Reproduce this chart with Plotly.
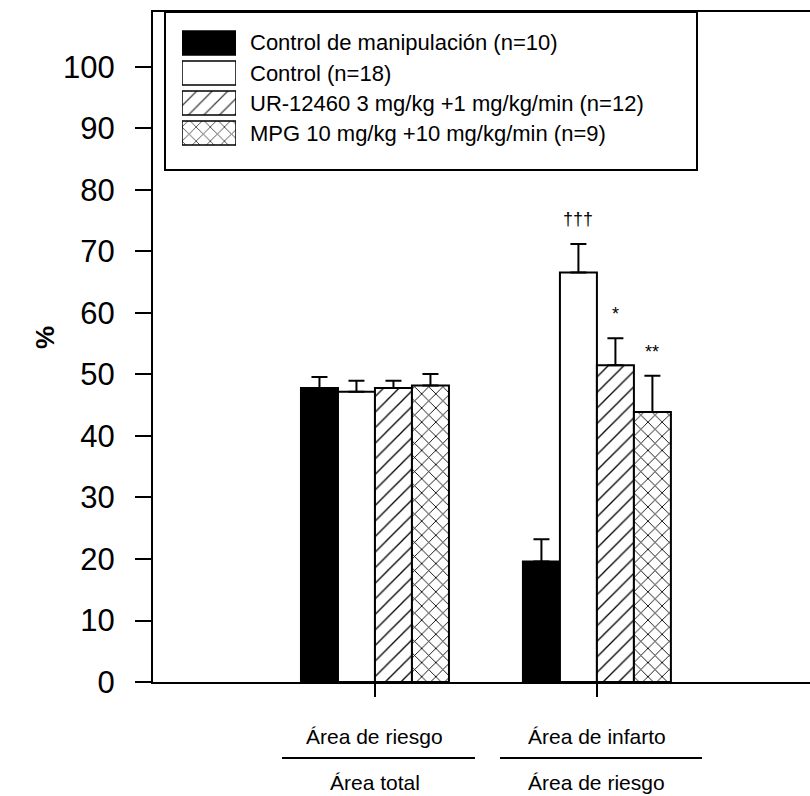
import plotly.graph_objects as go

# Two ratios measured per experimental group
group_top = ["Área de riesgo", "Área de infarto"]
group_bottom = ["Área total", "Área de riesgo"]
group_pos = [0, 1]

series_names = [
    "Control de manipulación (n=10)",
    "Control (n=18)",
    "UR-12460 3 mg/kg +1 mg/kg/min (n=12)",
    "MPG 10 mg/kg +10 mg/kg/min (n=9)",
]
manip = [47.8, 19.6]
manip_err = [1.8, 3.6]
control = [47.2, 66.6]
control_err = [1.8, 4.6]
ur12460 = [47.8, 51.5]
ur12460_err = [1.2, 4.4]
mpg = [48.2, 43.9]
mpg_err = [1.9, 5.9]

values = [manip, control, ur12460, mpg]
errors = [manip_err, control_err, ur12460_err, mpg_err]
sig_marks = [["", ""], ["", "†††"], ["", "*"], ["", "**"]]

fills = ["black", "white", "white", "white"]
shapes_pat = ["", "", "/", "x"]
pat_size = [8, 8, 11, 10]
pat_solid = [0.12, 0.12, 0.12, 0.17]

W, H = 810, 796
ML, MR, MT, MB = 153, 0, 12, 114
BARGAP = 1 / 3


def px(x):
    return (x - ML) / (W - ML - MR)


def py(y):
    return (H - MB - y) / (H - MT - MB)


FONT = "Arial, Liberation Sans, sans-serif"

fig = go.Figure()
n = len(series_names)
bw = (1 - BARGAP) / n
for k in range(n):
    fig.add_trace(go.Bar(
        x=group_pos, y=values[k], name=series_names[k], showlegend=False,
        marker=dict(
            color=fills[k],
            line=dict(color="black", width=2),
            pattern=dict(shape=shapes_pat[k], fgcolor="black", bgcolor=fills[k],
                         fgopacity=1, size=pat_size[k], solidity=pat_solid[k]),
        ),
        error_y=dict(type="data", symmetric=False, array=errors[k],
                     arrayminus=[0] * len(errors[k]),
                     color="black", thickness=2, width=8),
    ))

# significance marks above the error bars
for k in range(n):
    for i, lab in enumerate(sig_marks[k]):
        if not lab:
            continue
        fig.add_annotation(
            x=group_pos[i] + (k - (n - 1) / 2) * bw, y=values[k][i] + errors[k][i],
            xref="x", yref="y", text=lab, showarrow=False,
            yanchor="middle", yshift=25 if lab.startswith("†") else 24,
            font=dict(family=FONT, size=18, color="black"),
        )

# legend keys drawn as bars on a small auxiliary axis pair
fig.add_trace(go.Bar(
    y=list(range(n)), x=[1] * n, orientation="h", width=0.8,
    xaxis="x2", yaxis="y2", showlegend=False, hoverinfo="skip",
    marker=dict(
        color=fills,
        line=dict(color="black", width=1.5),
        pattern=dict(shape=shapes_pat, fgcolor="black", fgopacity=1,
                     size=pat_size, solidity=pat_solid),
    ),
))
for i, name in enumerate(series_names):
    fig.add_annotation(
        x=px(248), y=py(43 + 30 * i), xref="paper", yref="paper",
        text=name, showarrow=False, xanchor="left", yanchor="middle",
        font=dict(family=FONT, size=22, color="black"),
    )
fig.add_shape(type="rect", xref="paper", yref="paper",
              x0=px(165), x1=px(697), y0=py(170), y1=py(12),
              line=dict(color="black", width=2), fillcolor="rgba(0,0,0,0)")

# two-level category labels (ratio numerator / denominator)
for i in range(len(group_pos)):
    fig.add_annotation(x=group_pos[i], y=py(737), xref="x", yref="paper",
                       text=group_top[i], showarrow=False, yanchor="middle",
                       font=dict(family=FONT, size=21, color="black"))
    fig.add_annotation(x=group_pos[i], y=py(782), xref="x", yref="paper",
                       text=group_bottom[i], showarrow=False, yanchor="middle",
                       font=dict(family=FONT, size=21, color="black"))
for x0, x1 in [(282, 475), (500, 702)]:
    fig.add_shape(type="line", xref="paper", yref="paper",
                  x0=px(x0), x1=px(x1), y0=py(758), y1=py(758),
                  line=dict(color="black", width=2))

fig.add_annotation(x=px(28), y=py(338), xref="paper", yref="paper",
                   text="<b>%</b>", textangle=-90, showarrow=False,
                   font=dict(family=FONT, size=26, color="black"))

fig.update_layout(
    width=W, height=H,
    margin=dict(l=ML, r=MR, t=MT, b=MB, autoexpand=False),
    paper_bgcolor="white", plot_bgcolor="white",
    barmode="group", bargap=BARGAP, bargroupgap=0,
    xaxis=dict(range=[-1.0, 1.96], tickvals=group_pos, showticklabels=False,
               ticks="outside", ticklen=13, tickwidth=2, tickcolor="black",
               showline=True, linewidth=2, linecolor="black", mirror=True,
               showgrid=False, zeroline=False, fixedrange=True),
    yaxis=dict(range=[0, 108.94], tickvals=list(range(0, 101, 10)),
               ticks="outside", ticklen=16, tickwidth=2, tickcolor="black",
               ticklabelstandoff=14,
               tickfont=dict(family=FONT, size=31, color="black"),
               showline=True, linewidth=2, linecolor="black",
               showgrid=False, zeroline=False, automargin=False, fixedrange=True),
    xaxis2=dict(domain=[px(182), px(236)], range=[0, 1], visible=False,
                anchor="y2", fixedrange=True),
    yaxis2=dict(domain=[py(148), py(28)], range=[n - 0.5, -0.5], visible=False,
                anchor="x2", fixedrange=True),
)

fig.write_html("out.html")
